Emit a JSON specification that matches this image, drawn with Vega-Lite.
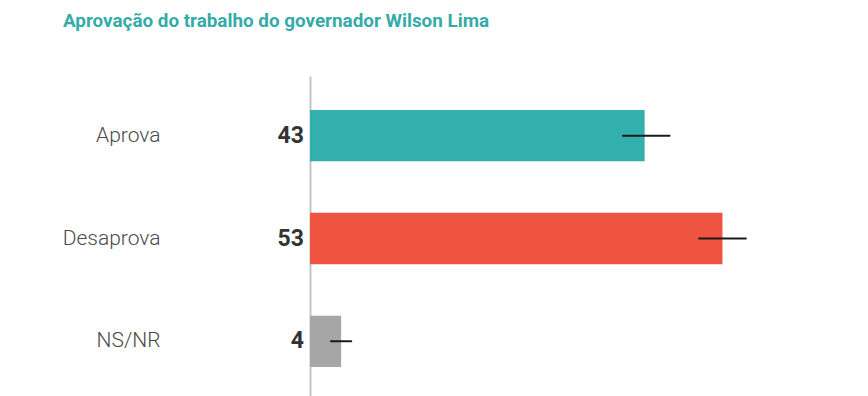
{
  "$schema": "https://vega.github.io/schema/vega-lite/v6.json",
  "autosize": "none",
  "padding": {"left": 310, "top": 76, "right": 0, "bottom": 0},
  "width": 558,
  "height": 325,
  "background": "white",
  "title": {
    "text": "Aprovação do trabalho do governador Wilson Lima",
    "anchor": "start",
    "frame": "group",
    "dx": -247,
    "offset": 45,
    "font": "Roboto",
    "fontSize": 18.85,
    "fontWeight": "bold",
    "color": "#35aba8"
  },
  "data": {
    "values": [
      {"resposta": "Aprova", "pct": 43, "lo": 40.2, "hi": 46.2, "cor": "#33b0ad"},
      {"resposta": "Desaprova", "pct": 53, "lo": 50.0, "hi": 56.0, "cor": "#ef5442"},
      {"resposta": "NS/NR", "pct": 4, "lo": 2.7, "hi": 5.3, "cor": "#a6a6a6"}
    ]
  },
  "encoding": {
    "y": {
      "field": "resposta",
      "type": "nominal",
      "sort": null,
      "scale": {"paddingInner": 0.5, "paddingOuter": 0.33},
      "axis": {
        "title": null,
        "ticks": false,
        "domain": true,
        "domainColor": "#c4c4c4",
        "domainWidth": 2,
        "labelPadding": 150,
        "labelFont": "Roboto",
        "labelFontWeight": 300,
        "labelFontSize": 21,
        "labelColor": "#4a4a4a"
      }
    }
  },
  "layer": [
    {
      "mark": {"type": "bar"},
      "encoding": {
        "x": {
          "field": "pct",
          "type": "quantitative",
          "scale": {"domain": [0, 71.7], "nice": false},
          "axis": null
        },
        "color": {"field": "cor", "type": "nominal", "scale": null, "legend": null}
      }
    },
    {
      "mark": {"type": "rule", "color": "#1a1a1a", "strokeWidth": 2, "strokeCap": "round"},
      "encoding": {
        "x": {"field": "lo", "type": "quantitative"},
        "x2": {"field": "hi"}
      }
    },
    {
      "mark": {
        "type": "text",
        "align": "right",
        "baseline": "middle",
        "dx": -6,
        "font": "Roboto",
        "fontWeight": "bold",
        "fontSize": 23,
        "color": "#333333"
      },
      "encoding": {
        "x": {"datum": 0, "type": "quantitative"},
        "text": {"field": "pct", "type": "quantitative"}
      }
    }
  ],
  "config": {
    "view": {"stroke": null}
  }
}
